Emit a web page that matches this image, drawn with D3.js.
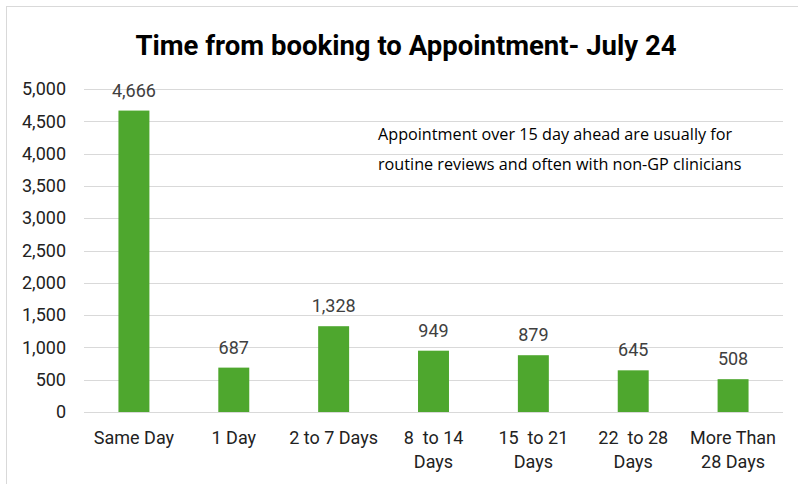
<!DOCTYPE html>
<html>
<head>
<meta charset="utf-8">
<script src="https://cdn.jsdelivr.net/npm/d3@7"></script>
<style>
  body { margin: 0; background: #fff; }
  svg { display: block; }
</style>
</head>
<body>
<div id="chart"></div>
<script>
var categories = ["Same Day", "1 Day", "2 to 7 Days", "8  to 14 Days", "15  to 21 Days", "22  to 28 Days", "More Than 28 Days"];
var labelLines = [["Same Day"], ["1 Day"], ["2 to 7 Days"], ["8  to 14", "Days"], ["15  to 21", "Days"], ["22  to 28", "Days"], ["More Than", "28 Days"]];
var values = [4666, 687, 1328, 949, 879, 645, 508];
var yTicks = [0, 500, 1000, 1500, 2000, 2500, 3000, 3500, 4000, 4500, 5000];

var W = 798, H = 484;
var margin = { left: 84, right: 15, top: 89, bottom: 72 };
var w = W - margin.left - margin.right;
var h = H - margin.top - margin.bottom;

var svg = d3.select("#chart").append("svg")
    .attr("width", W)
    .attr("height", H);

// chart border
svg.append("rect")
    .attr("x", 6.5).attr("y", 6.5)
    .attr("width", W + 10).attr("height", H + 10)
    .attr("fill", "#fff")
    .attr("stroke", "#d9d9d9");

// title
svg.append("text")
    .attr("x", 406)
    .attr("y", 55)
    .attr("text-anchor", "middle")
    .attr("font-family", "Roboto, sans-serif")
    .attr("font-weight", "bold")
    .attr("font-size", 27.5)
    .attr("fill", "#000")
    .text("Time from booking to Appointment- July 24");

var g = svg.append("g")
    .attr("transform", "translate(" + margin.left + "," + margin.top + ")");

var x = d3.scaleBand()
    .domain(categories)
    .range([0, w])
    .paddingInner(0.69)
    .paddingOuter(0.345);

var y = d3.scaleLinear()
    .domain([0, 5000])
    .range([h, 0]);

// gridlines
g.selectAll(".grid")
    .data(yTicks)
    .enter().append("line")
    .attr("class", "grid")
    .attr("x1", 0).attr("x2", w)
    .attr("y1", function(d) { return Math.round(y(d)) + 0.5; })
    .attr("y2", function(d) { return Math.round(y(d)) + 0.5; })
    .attr("stroke", "#d9d9d9")
    .attr("stroke-width", 1);

// y axis
var yAxis = d3.axisLeft(y)
    .tickValues(yTicks)
    .tickFormat(d3.format(","))
    .tickSize(0)
    .tickPadding(18);

var yAxisGroup = g.append("g").attr("class", "y axis").call(yAxis);
yAxisGroup.select(".domain").remove();
yAxisGroup.selectAll("text")
    .attr("font-family", "Roboto, sans-serif")
    .attr("font-size", 18)
    .attr("fill", "#222");

// bars
g.selectAll(".bar")
    .data(values)
    .enter().append("rect")
    .attr("class", "bar")
    .attr("x", function(d, i) { return x(categories[i]); })
    .attr("y", function(d) { return y(d); })
    .attr("width", x.bandwidth())
    .attr("height", function(d) { return h - y(d); })
    .attr("fill", "#4ea72e");

// data labels
g.selectAll(".value")
    .data(values)
    .enter().append("text")
    .attr("class", "value")
    .attr("x", function(d, i) { return x(categories[i]) + x.bandwidth() / 2; })
    .attr("y", function(d) { return y(d) - 14; })
    .attr("text-anchor", "middle")
    .attr("font-family", "Roboto, sans-serif")
    .attr("font-size", 18)
    .attr("fill", "#404040")
    .text(d3.format(","));

// category labels
var cat = g.selectAll(".cat")
    .data(labelLines)
    .enter().append("text")
    .attr("class", "cat")
    .attr("text-anchor", "middle")
    .attr("font-family", "Roboto, sans-serif")
    .attr("font-size", 18)
    .attr("fill", "#222")
    .attr("transform", function(d, i) {
        return "translate(" + (x(categories[i]) + x.bandwidth() / 2) + "," + (h + 32) + ")";
    });

cat.selectAll("tspan")
    .data(function(d) { return d; })
    .enter().append("tspan")
    .attr("x", 0)
    .attr("y", function(d, i) { return i * 24; })
    .attr("xml:space", "preserve")
    .text(function(d) { return d; });

// note
var note = svg.append("text")
    .attr("font-family", "'Open Sans', sans-serif")
    .attr("font-size", 16.2)
    .attr("fill", "#000");
note.append("tspan").attr("x", 378).attr("y", 140)
    .text("Appointment over 15 day ahead are usually for");
note.append("tspan").attr("x", 378).attr("y", 170)
    .text("routine reviews and often with non-GP clinicians");
</script>
</body>
</html>
